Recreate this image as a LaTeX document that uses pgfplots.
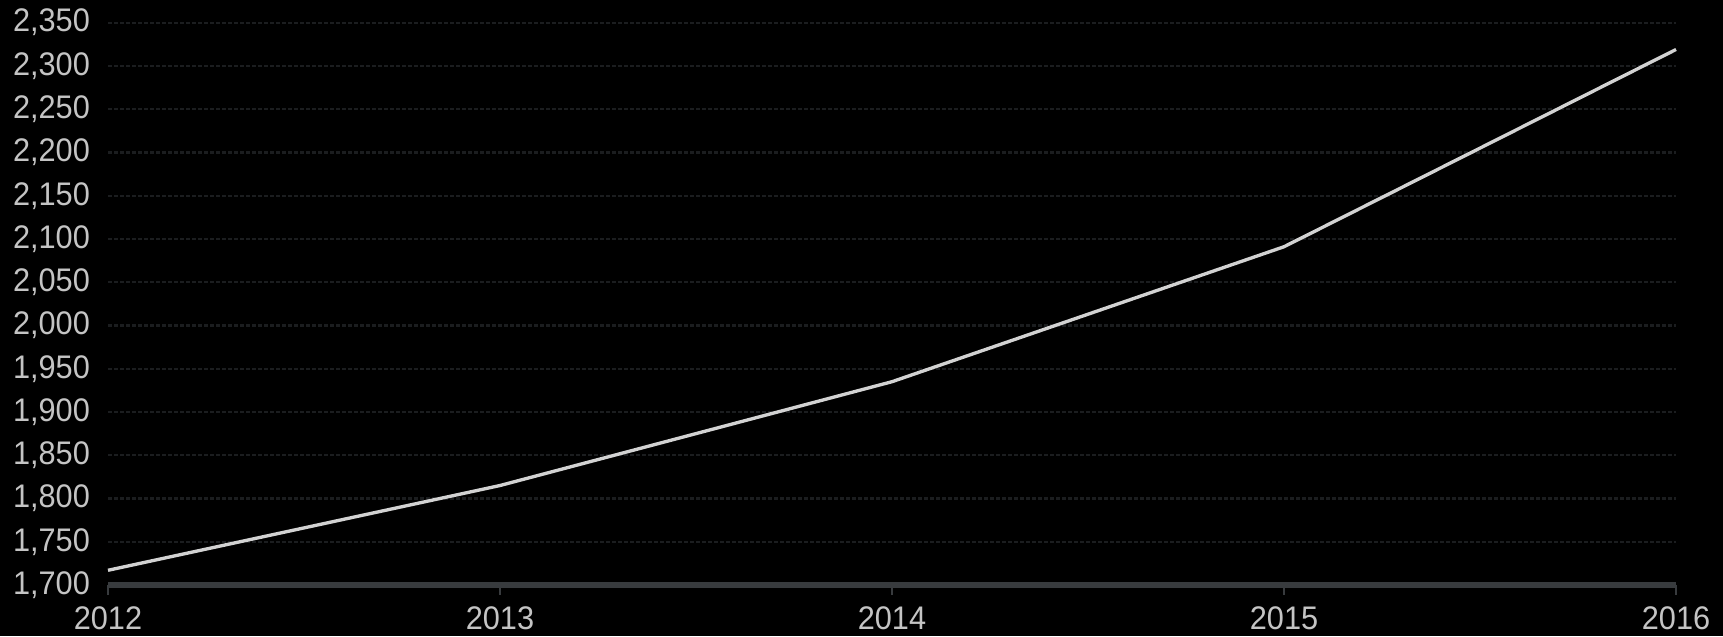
\documentclass[border=0pt]{standalone}
\usepackage{pgfplots}
\pgfplotsset{compat=1.18}
\usepackage{fontspec}
\setmainfont{Liberation Sans}
\newfontfamily\labfont[FakeStretch=0.94]{Liberation Sans}
\definecolor{gridc}{HTML}{1B1D1F}
\definecolor{axisc}{HTML}{383B3E}
\definecolor{labc}{HTML}{C4C4C4}
\definecolor{linec}{HTML}{D2D2D2}
\begin{document}
\begin{tikzpicture}[x=1pt,y=1pt]
\fill[black] (0,0) rectangle (516.9,190.8);
\useasboundingbox (0,0) rectangle (516.9,190.8);
\begin{axis}[
  at={(32.4pt,15.3pt)}, anchor=origin,
  scale only axis,
  width=470.4pt, height=168.7pt,
  xmin=2012, xmax=2016, ymin=1700, ymax=2350,
  xtick={2012,2013,2014,2015,2016},
  ytick={1700,1750,...,2350},
  axis line style={draw=none},
  axis x line*=bottom, axis y line*=left,
  ymajorgrids,
  grid style={gridc, line width=0.7pt, dash pattern=on 1.2pt off 0.6pt},
  major tick length=3pt,
  xtick style={axisc, line width=0.6pt},
  ytick style={draw=none},
  tick align=outside,
  /pgf/number format/assume math mode=true,
  xticklabel style={/pgf/number format/1000 sep={}, yshift=-1.7pt, inner sep=1.5pt},
  yticklabel style={/pgf/number format/1000 sep={,}, xshift=1.1pt},
  ticklabel style={font=\labfont\fontsize{9.8}{11}\selectfont, text=labc},
  clip=false,
]
\draw[axisc, line width=1.6pt] (axis cs:2012,1700) -- (axis cs:2016,1700);
\addplot[linec, line width=1pt, mark=none] coordinates {
  (2012,1717) (2013,1815) (2014,1935) (2015,2091) (2016,2319)
};
\end{axis}
\end{tikzpicture}
\end{document}
